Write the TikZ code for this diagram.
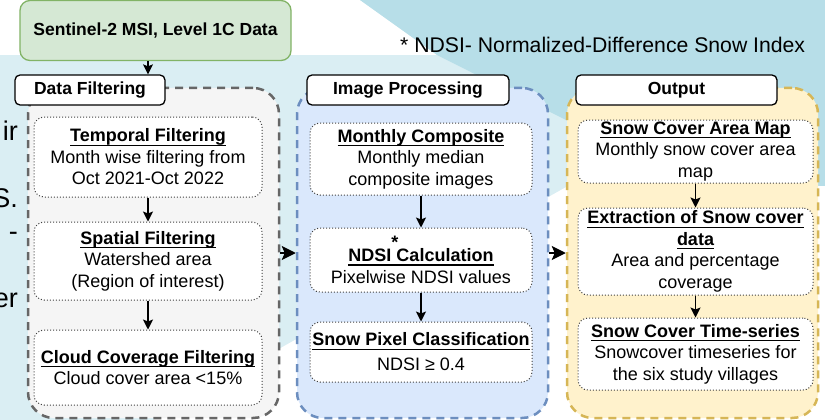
\documentclass[tikz,border=0pt]{standalone}
\usepackage{fontspec}
\setmainfont{Liberation Sans}
\usetikzlibrary{arrows.meta}
\definecolor{bgpale}{HTML}{DAEEF3}
\definecolor{bgdeep}{HTML}{B7DEE8}
\definecolor{grpgray}{HTML}{F5F5F5}
\definecolor{edgegray}{HTML}{666666}
\definecolor{grpblue}{HTML}{DAE8FC}
\definecolor{edgeblue}{HTML}{6C8EBF}
\definecolor{grpyellow}{HTML}{FFF2CC}
\definecolor{edgeyellow}{HTML}{D6B656}
\definecolor{srcgreen}{HTML}{D5E8D4}
\definecolor{edgegreen}{HTML}{82B366}
\newcommand{\steptitle}[1]{\textbf{\setbox0=\hbox{#1}\rlap{\rule[-3.9pt]{\wd0}{1.3pt}}\box0}}

\begin{document}
\begin{tikzpicture}[x=1pt,y=-1pt,
  txt/.style={font=\fontsize{18}{21.5}\selectfont,align=center,inner sep=0pt},
  group/.style={line width=2.5pt,dash pattern=on 8pt off 6pt,rounded corners=26pt,
    minimum width=251pt,minimum height=330pt,inner sep=0pt},
  stepbox/.style={txt,draw=black!75,fill=white,dotted,line width=1pt,rounded corners=10pt},
  tag/.style={txt,draw=black,fill=white,line width=1.3pt,rounded corners=5pt,
    minimum height=30pt,font=\fontsize{17.5}{21.5}\selectfont\bfseries},
  arr/.style={-{Stealth[length=10pt,width=10pt,inset=2pt]},line width=1.2pt},
  bigarr/.style={-{Stealth[length=14pt,width=14pt,inset=3pt]},line width=1.5pt}]
\useasboundingbox (0,0) rectangle (825,420);
\clip (0,0) rectangle (825,420);
% slide background
\fill[bgpale] (0,0) rectangle (825,420);
\fill[white] (0,0) -- (360,0) -- (437,55) -- (0,55) -- cycle;
\fill[bgdeep] (360,0) -- (825,0) -- (825,200) -- (570,122) -- (437,55) -- cycle;
\fill[white] (153,420) -- (568,186) -- (825,186) -- (825,420) -- cycle;
\foreach \txtfrag/\ypos in {ir/140,S./207,-/240,er/307}
  \node[anchor=base east,font=\fontsize{27}{30}\selectfont,inner sep=0pt] (frag-\ypos) at (18,\ypos) {\txtfrag};

\begin{scope}
  \node[group,fill=grpgray,draw=edgegray] (filt) at (153.5,253) {};
  \node[stepbox,minimum width=228pt,minimum height=80pt] (temporal) at (148,157)
    {\steptitle{Temporal Filtering}\\Month wise filtering from\\Oct 2021-Oct 2022};
  \node[stepbox,minimum width=228pt,minimum height=78pt] (spatial) at (148,261)
    {\steptitle{Spatial Filtering}\\Watershed area\\(Region of interest)};
  \node[stepbox,minimum width=228pt,minimum height=75pt] (cloud) at (148,367.5)
    {\steptitle{Cloud Coverage Filtering}\\Cloud cover area <15\%};
  \draw[arr] (temporal) -- (spatial);
  \draw[arr] (spatial) -- (cloud);
  \node[tag,minimum width=150pt] (lblfilt) at (90,90) {Data Filtering};
\end{scope}

\begin{scope}
  \node[group,fill=grpblue,draw=edgeblue] (proc) at (422.5,253) {};
  \node[stepbox,minimum width=222pt,minimum height=72pt] (composite) at (421,159)
    {\steptitle{Monthly Composite}\\Monthly median\\composite images};
  \node[stepbox,minimum width=222pt,minimum height=64pt] (ndsi) at (421,260)
    {\steptitle{NDSI{\rlap{\raisebox{13pt}{*}}} Calculation}\\Pixelwise NDSI values};
  \node[stepbox,minimum width=222pt,minimum height=60pt] (classify) at (421,352)
    {\steptitle{Snow Pixel Classification}\\[3.5pt]NDSI ≥ 0.4};
  \draw[arr] (composite) -- (ndsi);
  \draw[arr] (ndsi) -- (classify);
  \node[tag,minimum width=202pt] (lblproc) at (408,90) {Image Processing};
\end{scope}

\begin{scope}
  \node[group,fill=grpyellow,draw=edgeyellow] (outp) at (692.5,253) {};
  \node[stepbox,minimum width=235pt,minimum height=63pt] (areamap) at (695.5,151.5)
    {\steptitle{Snow Cover Area Map}\\Monthly snow cover area\\map};
  \node[stepbox,minimum width=235pt,minimum height=87pt] (extract) at (695.5,251.5)
    {\steptitle{Extraction of Snow cover}\\\steptitle{data}\\Area and percentage\\coverage};
  \node[stepbox,minimum width=235pt,minimum height=72pt] (series) at (695.5,354)
    {\steptitle{Snow Cover Time-series}\\Snowcover timeseries for\\the six study villages};
  \draw[arr] (areamap) -- (extract);
  \draw[arr] (extract) -- (series);
  \node[tag,minimum width=201pt] (lblout) at (676.5,90) {Output};
\end{scope}

\node[txt,draw=edgegreen,fill=srcgreen,line width=1.3pt,rounded corners=10pt,
  minimum width=271pt,minimum height=60pt,font=\fontsize{17.5}{21.5}\selectfont\bfseries]
  (src) at (155.5,30.5) {Sentinel-2 MSI, Level 1C Data};
\coordinate (drop) at (148,0);
\draw[arr] (src.south -| drop) -- (lblfilt.north -| drop);
\draw[bigarr] (filt) -- (proc);
\draw[bigarr] (proc) -- (outp);

\node[anchor=base west,font=\fontsize{21.2}{24}\selectfont,inner sep=0pt] (note) at (400,53)
  {* NDSI- Normalized-Difference Snow Index};
\end{tikzpicture}
\end{document}
